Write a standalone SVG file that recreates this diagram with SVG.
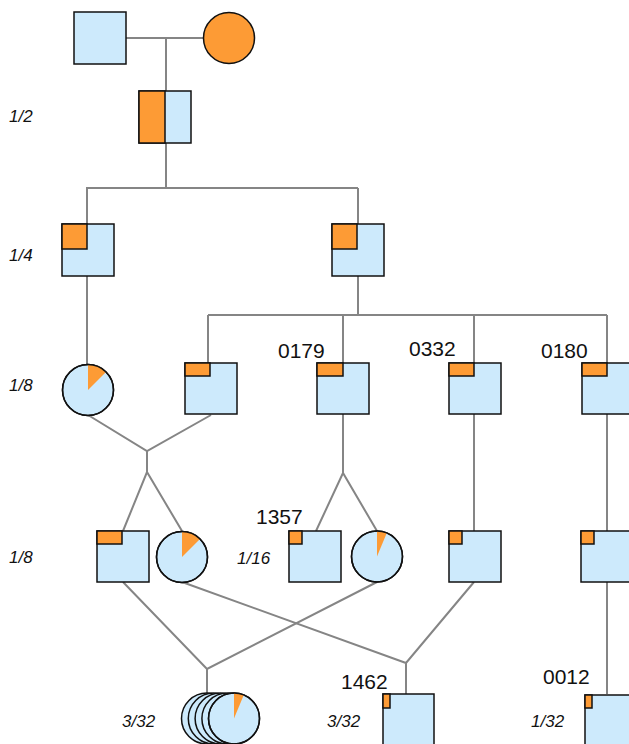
<svg xmlns="http://www.w3.org/2000/svg" width="629" height="744" viewBox="0 0 629 744">
<style>
.ln{fill:none;stroke:#858585;stroke-width:2}
.nd{fill:#cdeafc;stroke:#111;stroke-width:1.5}
.or{fill:#fd9b35;stroke:#111;stroke-width:1.5}
.wd{fill:#fd9b35;stroke:none}
.id{font-family:"Liberation Sans",Arial,sans-serif;font-size:21px;fill:#111}
.fr{font-family:"Liberation Sans",Arial,sans-serif;font-size:17px;font-style:italic;fill:#111}
</style>
<rect width="629" height="744" fill="#fff"/>
<g id="connectors">
<path class="ln" d="M126,38H204M166,37V91"/>
<path class="ln" d="M166,143V188M86,188H358M87,188V224M358,188V224"/>
<path class="ln" d="M87,276V364"/>
<path class="ln" d="M358,276V315M208,315H607M208,315V363M343,315V363M474,315V363M607,315V363"/>
<path class="ln" d="M88,415L147,451L211,415M147,451V472M123,531L147,472L182,531"/>
<path class="ln" d="M343,414V473M316,531L343,473L377,531"/>
<path class="ln" d="M474,414V531M607,414V531M607,582V694"/>
<path class="ln" d="M123,582L207,669L377,582M207,669V693"/>
<path class="ln" d="M182,582L406,663L474,582M406,663V694"/>
</g>
<g id="father"><rect class="nd" x="74" y="12" width="52" height="52"/></g>
<g id="mother"><circle class="or" cx="229" cy="38" r="25.5"/></g>
<g id="g1"><rect class="nd" x="139" y="91" width="52" height="52"/><rect class="or" x="139" y="91" width="26" height="52"/></g>
<g id="g2a"><rect class="nd" x="62" y="224" width="52" height="52"/><rect class="or" x="62" y="224" width="25" height="25"/></g>
<g id="g2b"><rect class="nd" x="332" y="224" width="52" height="52"/><rect class="or" x="332" y="224" width="25" height="25"/></g>
<g id="g3a"><circle class="nd" cx="88" cy="390" r="25.5"/><path class="wd" d="M88,390L88,364.5A25.5,25.5 0 0 1 106.03,371.97Z"/><circle cx="88" cy="390" r="25.5" fill="none" stroke="#111" stroke-width="1.5"/></g>
<g id="g3b"><rect class="nd" x="185" y="363" width="52" height="51"/><rect class="or" x="185" y="363" width="25" height="13"/></g>
<g id="n0179"><rect class="nd" x="317" y="363" width="52" height="51"/><rect class="or" x="317" y="363" width="26" height="13"/><text class="id" x="278" y="358">0179</text></g>
<g id="n0332"><rect class="nd" x="449" y="363" width="52" height="51"/><rect class="or" x="449" y="363" width="25" height="13"/><text class="id" x="409" y="356">0332</text></g>
<g id="n0180"><rect class="nd" x="582" y="363" width="52" height="51"/><rect class="or" x="582" y="363" width="25" height="13"/><text class="id" x="541" y="358">0180</text></g>
<g id="g4a"><rect class="nd" x="97" y="531" width="52" height="51"/><rect class="or" x="97" y="531" width="25" height="13"/></g>
<g id="g4b"><circle class="nd" cx="182" cy="557" r="25.5"/><path class="wd" d="M182,557L182,531.5A25.5,25.5 0 0 1 200.03,538.97Z"/><circle cx="182" cy="557" r="25.5" fill="none" stroke="#111" stroke-width="1.5"/></g>
<g id="n1357"><rect class="nd" x="289" y="531" width="52" height="51"/><rect class="or" x="289" y="531" width="13" height="13"/><text class="id" x="256" y="524">1357</text></g>
<g id="g4d"><circle class="nd" cx="377" cy="556.5" r="25.5"/><path class="wd" d="M377,556.5L377,531A25.5,25.5 0 0 1 386.76,532.94Z"/><circle cx="377" cy="556.5" r="25.5" fill="none" stroke="#111" stroke-width="1.5"/></g>
<g id="g4e"><rect class="nd" x="449" y="531" width="52" height="51"/><rect class="or" x="449" y="531" width="13" height="13"/></g>
<g id="g4f"><rect class="nd" x="581" y="531" width="52" height="51"/><rect class="or" x="581" y="531" width="13" height="13"/></g>
<g id="g5a">
<circle class="nd" cx="207" cy="718.5" r="25.5"/>
<circle class="nd" cx="213.8" cy="718.5" r="25.5"/>
<circle class="nd" cx="220.6" cy="718.5" r="25.5"/>
<circle class="nd" cx="227.4" cy="718.5" r="25.5"/>
<circle class="nd" cx="234" cy="718.5" r="25.5"/>
<path class="wd" d="M234,718.5L234,693A25.5,25.5 0 0 1 243.76,694.94Z"/>
<circle cx="234" cy="718.5" r="25.5" fill="none" stroke="#111" stroke-width="1.5"/>
</g>
<g id="n1462"><rect class="nd" x="383" y="694" width="51" height="60"/><rect class="or" x="383" y="694" width="7" height="14"/><text class="id" x="341" y="689">1462</text></g>
<g id="n0012"><rect class="nd" x="585" y="695" width="52" height="60"/><rect class="or" x="585" y="695" width="7" height="13"/><text class="id" x="543" y="684">0012</text></g>
<g id="labels">
<text class="fr" x="9" y="122">1/2</text>
<text class="fr" x="9" y="261">1/4</text>
<text class="fr" x="9" y="391">1/8</text>
<text class="fr" x="9" y="563">1/8</text>
<text class="fr" x="237" y="564">1/16</text>
<text class="fr" x="122" y="727">3/32</text>
<text class="fr" x="327" y="727">3/32</text>
<text class="fr" x="531" y="727">1/32</text>
</g>
</svg>
